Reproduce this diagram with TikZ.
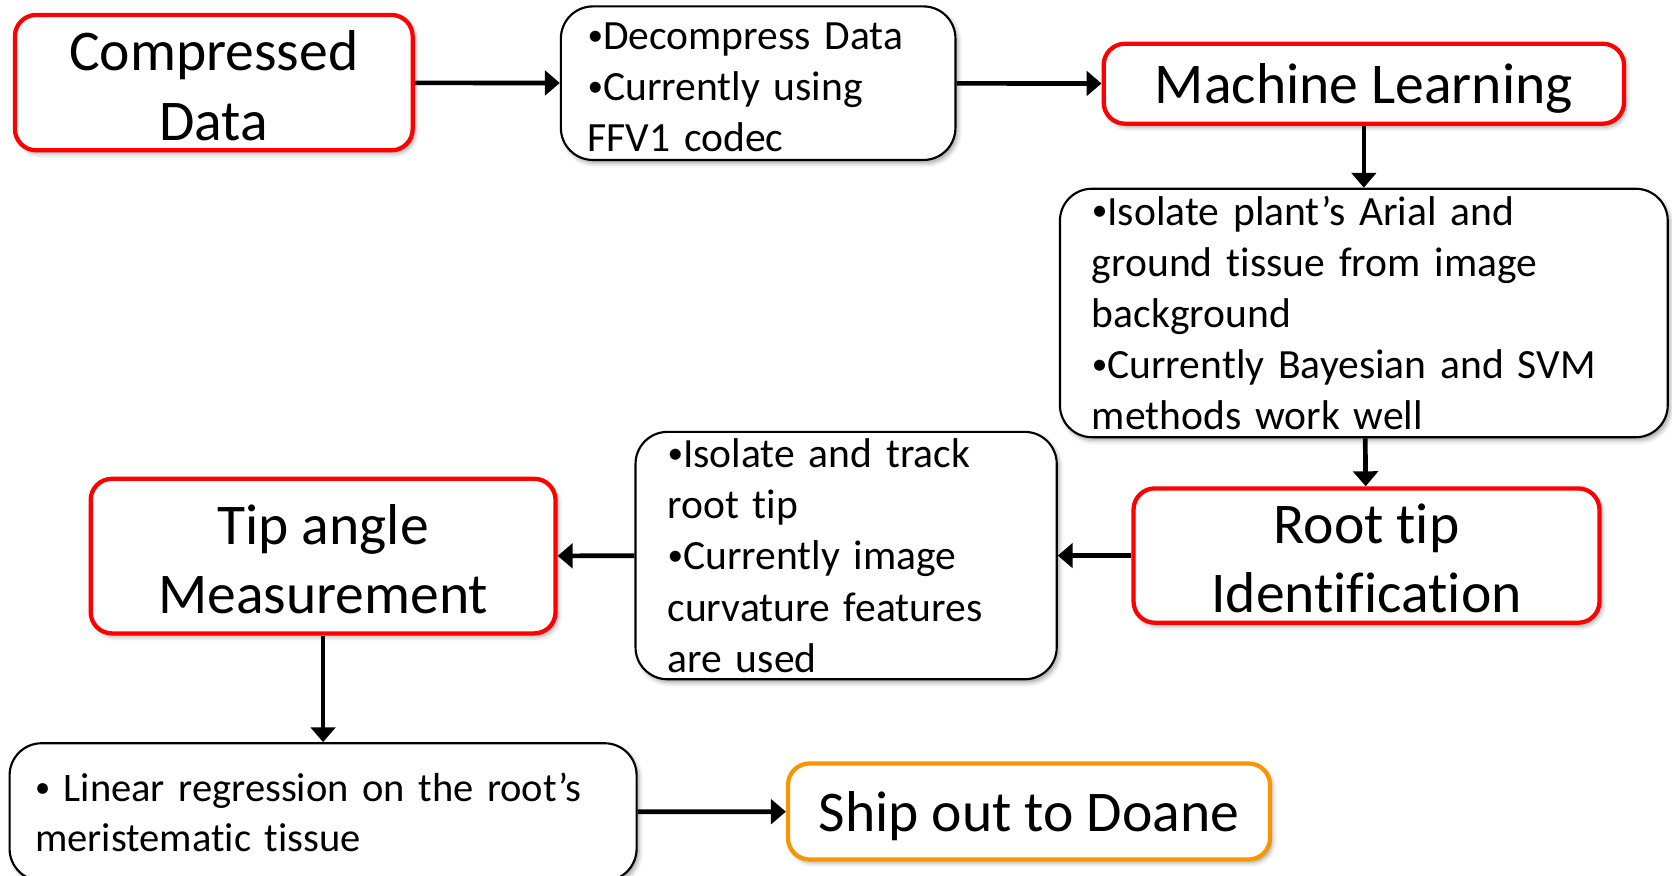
\documentclass[tikz,border=0pt]{standalone}
\usepackage{fontspec}
\setmainfont{Carlito}[Ligatures=NoCommon]
\usetikzlibrary{arrows.meta,shadows.blur}
\definecolor{boxred}{RGB}{255,0,0}
\definecolor{boxorange}{RGB}{247,150,0}
\newcommand{\smallbul}{\raisebox{0.1em}{\scalebox{0.75}{•}}}
\newcommand{\kstrut}{\rule{0pt}{23.5pt}}
\newcommand{\kkstrut}{\rule{0pt}{21.5pt}}
\newcommand{\nstrut}{\rule{0pt}{16.5pt}}
\begin{document}
\begin{tikzpicture}[
  x=0.5pt, y=-0.5pt,
  myshadow/.style={blur shadow={shadow xshift=1.2pt, shadow yshift=-1.6pt, shadow blur radius=2pt, shadow opacity=35}},
  keybox/.style={draw=boxred, line width=2pt, rounded corners=10pt, fill=white,
    align=center, inner sep=0pt, font=\fontsize{27}{32.5}\selectfont, myshadow},
  notebox/.style={draw=black, line width=1pt, rounded corners=15pt, fill=white,
    align=left, inner ysep=0pt, font=\fontsize{19.5}{24}\selectfont, myshadow},
  flow/.style={line width=2.2pt, -{Triangle[length=7pt,width=11.5pt]}}
]
\useasboundingbox (0,0) rectangle (1568,821);

\node[keybox, minimum width=186.5pt, minimum height=63.5pt] (comp) at (200.5,77.5) {\kkstrut Compressed\\Data};
\node[notebox, inner xsep=12.5pt, text width=160pt, minimum height=72pt] (decomp) at (711,78)
  {\nstrut\smallbul Decompress Data\\\smallbul Currently using\\FFV1 codec};
\node[keybox, minimum width=244pt, minimum height=37.5pt] (ml) at (1279,78.5) {\kstrut Machine Learning};
\node[notebox, inner xsep=15pt, text width=255pt, minimum height=116.5pt] (isoplant) at (1279,293.5)
  {\smallbul Isolate plant’s Arial and\\ground tissue from image\\background\\\smallbul Currently Bayesian and SVM\\methods work well};
\node[keybox, minimum width=218.5pt, minimum height=63pt] (roottip) at (1281.5,521) {\kkstrut Root tip\\Identification};
\node[notebox, inner xsep=15pt, text width=167.5pt, minimum height=116pt] (isotrack) at (793.5,521)
  {\smallbul Isolate and track\\root tip\\\smallbul Currently image\\curvature features\\are used};
\node[keybox, minimum width=218pt, minimum height=72.5pt] (tipangle) at (303,521.5) {\kkstrut Tip angle\\Measurement};
\node[notebox, inner xsep=12pt, text width=270pt, minimum height=64.5pt, font=\fontsize{19}{23.5}\selectfont] (linear) at (303,761.5)
  {\smallbul{} Linear regression on the root’s\\meristematic tissue};
\node[keybox, draw=boxorange, minimum width=226pt, minimum height=45pt] (ship) at (965,761) {\kstrut Ship out to Doane};

\draw[flow] (comp) -- (decomp);
\draw[flow] (decomp) -- (ml);
\draw[flow] (ml) -- (isoplant);
\draw[flow] (isoplant) -- (roottip);
\draw[flow] (roottip) -- (isotrack);
\draw[flow] (isotrack) -- (tipangle);
\draw[flow] (tipangle) -- (linear);
\draw[flow] (linear) -- (ship);
\end{tikzpicture}
\end{document}
